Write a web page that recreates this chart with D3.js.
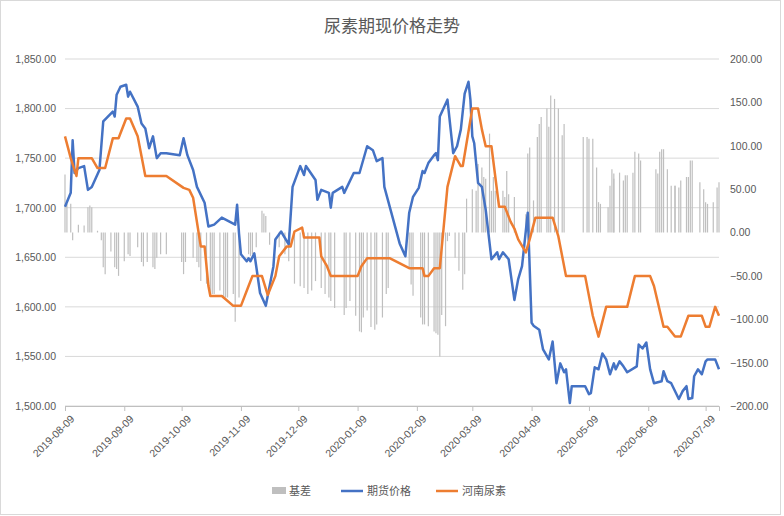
<!DOCTYPE html>
<html><head><meta charset="utf-8">
<script src="https://cdn.jsdelivr.net/npm/d3@7"></script>
<style>body{margin:0;background:#fff}svg{font-family:"Microsoft YaHei","Noto Sans CJK SC",sans-serif}</style>
</head><body><svg id="c" width="784" height="516"></svg>
<script>
// day offsets from 2019-08-09 and values
const futDays = [0,3,4,5,7,10,12,14,18,20,25,26,27,29,32,33,34,38,40,42,44,46,48,50,53,60,62,64,67,69,73,75,78,82,87,89,90,91,92,95,96,97,99,100,102,105,109,110,113,117,119,123,125,126,131,132,134,138,139,140,145,146,151,154,158,161,163,166,167,175,178,180,182,185,187,188,190,193,194,195,196,200,203,205,207,209,211,212,213,214,216,218,220,223,226,227,229,232,235,237,239,242,244,245,248,250,253,255,257,259,261,262,264,265,269,272,274,275,277,279,281,283,285,287,288,290,292,294,299,300,302,304,306,308,312,313,315,317,321,323,325,326,328,329,331,333,335,336,340,342];
const futVals = [1701,1715,1768,1735,1740,1742,1718,1721,1738,1787,1797,1792,1814,1822,1824,1812,1817,1802,1785,1780,1760,1772,1750,1755,1755,1753,1770,1753,1738,1721,1705,1681,1683,1690,1685,1683,1703,1674,1653,1646,1649,1646,1654,1641,1614,1601,1641,1668,1676,1663,1721,1742,1733,1742,1728,1708,1718,1715,1700,1715,1721,1715,1735,1735,1762,1758,1747,1750,1721,1664,1651,1695,1711,1720,1737,1735,1745,1753,1755,1748,1792,1809,1755,1762,1779,1815,1827,1809,1772,1765,1725,1721,1698,1648,1655,1648,1655,1648,1607,1628,1641,1695,1584,1581,1577,1557,1547,1565,1523,1543,1534,1537,1503,1520,1520,1520,1512,1513,1539,1537,1553,1547,1532,1543,1537,1545,1540,1534,1540,1562,1558,1564,1537,1523,1525,1535,1525,1523,1507,1515,1520,1507,1508,1530,1537,1532,1545,1547,1547,1537];

const spotDays = [0,3,6,7,14,17,21,25,28,32,34,38,42,53,62,65,67,71,73,75,76,82,88,92,96,98,103,106,110,112,116,118,120,124,125,133,134,137,139,153,155,158,168,170,180,187,188,190,193,196,200,204,207,208,213,216,218,220,223,227,230,233,235,237,241,243,246,255,258,262,272,276,279,283,294,298,306,308,313,315,319,322,326,333,335,337,340,342];
const spotVals = [1772,1750,1732,1750,1750,1740,1740,1770,1770,1790,1790,1772,1732,1732,1720,1718,1710,1661,1661,1621,1611,1611,1601,1601,1621,1631,1631,1612,1631,1651,1661,1661,1676,1680,1670,1670,1651,1641,1631,1631,1641,1649,1649,1649,1639,1639,1631,1631,1639,1639,1721,1752,1742,1742,1800,1800,1779,1762,1762,1701,1701,1686,1679,1668,1655,1668,1690,1690,1671,1631,1631,1591,1570,1600,1600,1631,1631,1621,1580,1580,1570,1570,1591,1591,1580,1580,1600,1591];

const basisDays = [0,1,3,4,7,10,12,13,14,17,19,20,21,24,26,27,28,31,33,34,38,40,41,43,46,47,48,50,53,61,62,63,67,69,70,71,74,76,77,78,81,83,84,85,88,89,91,96,97,98,100,103,104,105,107,112,115,117,120,123,125,127,129,131,134,136,138,139,141,146,147,149,152,154,155,156,158,160,162,163,166,168,169,
  180,181,182,186,187,188,190,193,194,195,196,197,199,200,201,204,206,208,209,210,213,215,216,218,219,220,222,223,224,225,229,230,231,232,235,241,242,243,245,247,248,249,252,253,254,256,258,260,261,271,273,274,276,278,279,280,284,285,286,287,287,290,292,293,294,297,298,300,301,309,310,311,312,313,315,317,319,319,321,322,325,326,327,328,332,334,335,336,339,341,342];
const basisVals = [67,33,33,-9,9,8,29,31,29,2,-9,-40,-48,-22,-40,-42,-50,-33,-25,-27,-17,-34,-39,-34,-40,-42,-29,-25,-25,-34,-48,-34,-29,-34,-40,-56,-59,-71,-71,-71,-67,-75,-75,-75,-71,-103,-75,-25,-27,-25,-17,25,22,19,-14,-17,-25,-33,-59,-62,-64,-71,-67,-56,-64,-71,-75,-79,-87,-95,-87,-79,-96,-114,-115,-98,-90,-109,-112,-106,-98,-71,-64,
  -41,-60,-73,-98,-106,-106,-108,-114,-116,-118,-143,-95,-108,-10,-4,-29,-44,-66,-48,39,50,48,79,75,64,62,114,48,64,48,48,41,71,44,41,21,91,98,37,110,125,133,143,122,158,154,143,112,125,110,110,108,108,75,35,33,29,54,73,68,62,69,60,66,66,69,93,91,83,73,68,93,96,96,73,54,54,54,52,60,64,64,83,83,58,50,35,33,35,52,58,52];

const leftTicks = [1500,1550,1600,1650,1700,1750,1800,1850];
const rightTicks = [-200,-150,-100,-50,0,50,100,150,200];
const monthTicks = ["2019-08-09","2019-09-09","2019-10-09","2019-11-09","2019-12-09","2020-01-09","2020-02-09","2020-03-09","2020-04-09","2020-05-09","2020-06-09","2020-07-09"];
const seriesNames = ["基差","期货价格","河南尿素"];
const colors = {basis:"#bfbfbf", fut:"#4472c4", spot:"#ed7d31"};

const svg = d3.select("#c");
const start = new Date(2019,7,9);
const toDate = d => d3.timeDay.offset(start, d);
const parse = d3.timeParse("%Y-%m-%d");

const m = {l:65, r:719, t:59, b:406};
const x = d3.scaleTime().domain([start, toDate(342)]).range([m.l, m.r]);
const yL = d3.scaleLinear().domain([1500,1850]).range([m.b, m.t]);
const yR = d3.scaleLinear().domain([-200,200]).range([m.b, m.t]);

svg.append("rect").attr("x",0.5).attr("y",0.5).attr("width",780).attr("height",514).attr("fill","none").attr("stroke","#d9d9d9");

// title
svg.append("text").attr("x",392).attr("y",32).attr("text-anchor","middle")
  .attr("font-size",17).attr("fill","#595959").text("尿素期现价格走势");

// grid
svg.append("g").selectAll("line").data(leftTicks).join("line")
  .attr("x1",m.l).attr("x2",m.r).attr("y1",d=>yL(d)).attr("y2",d=>yL(d))
  .attr("stroke","#d9d9d9").attr("stroke-width",1);

const fmt = d3.format(",.2f");
svg.append("g").attr("transform",`translate(${m.l - 6},0)`)
  .call(d3.axisLeft(yL).tickValues(leftTicks).tickFormat(fmt).tickSize(0))
  .call(g=>g.select(".domain").remove())
  .call(g=>g.selectAll("text").attr("fill","#595959").attr("font-size",10.5));
svg.append("g").attr("transform",`translate(${m.r + 8},0)`)
  .call(d3.axisRight(yR).tickValues(rightTicks).tickFormat(fmt).tickSize(0))
  .call(g=>g.select(".domain").remove())
  .call(g=>g.selectAll("text").attr("fill","#595959").attr("font-size",10.5));

// basis bars
svg.append("g").selectAll("line").data(basisDays).join("line")
  .attr("x1",d=>x(toDate(d))).attr("x2",d=>x(toDate(d)))
  .attr("y1",yR(0)).attr("y2",(d,i)=>yR(basisVals[i]))
  .attr("stroke",colors.basis).attr("stroke-width",1.2);

// x axis
svg.append("g").attr("transform",`translate(0,${m.b})`)
  .call(d3.axisBottom(x).tickValues(monthTicks.map(parse)).tickFormat(d3.timeFormat("%Y-%m-%d")).tickSize(5))
  .call(g=>g.select(".domain").attr("stroke","#bfbfbf"))
  .call(g=>g.selectAll(".tick line").attr("stroke","#bfbfbf"))
  .call(g=>g.selectAll("text").attr("fill","#595959").attr("font-size",10.5)
    .attr("text-anchor","end").attr("dy",0).attr("dx",0)
    .attr("transform","translate(4,8) rotate(-45)"));

const line = (days, vals) => d3.line().x((d,i)=>x(toDate(days[i]))).y((d,i)=>yL(vals[i]))(days);
svg.append("path").attr("d",line(futDays,futVals)).attr("fill","none")
  .attr("stroke",colors.fut).attr("stroke-width",2.5).attr("stroke-linejoin","round");
svg.append("path").attr("d",line(spotDays,spotVals)).attr("fill","none")
  .attr("stroke",colors.spot).attr("stroke-width",2.5).attr("stroke-linejoin","round");

// legend
const lg = svg.append("g").attr("font-size",11).attr("fill","#595959");
const items = [{n:seriesNames[0],c:colors.basis,t:"rect",x:272},{n:seriesNames[1],c:colors.fut,t:"line",x:343},{n:seriesNames[2],c:colors.spot,t:"line",x:438}];
items.forEach(it=>{
  if(it.t==="rect") lg.append("rect").attr("x",it.x).attr("y",487).attr("width",14).attr("height",7).attr("fill",it.c);
  else lg.append("line").attr("x1",it.x-2).attr("x2",it.x+20).attr("y1",491).attr("y2",491).attr("stroke",it.c).attr("stroke-width",2.5);
  lg.append("text").attr("x",it.x+(it.t==="rect"?17:24)).attr("y",495).attr("fill","#595959").text(it.n);
});
</script></body></html>
